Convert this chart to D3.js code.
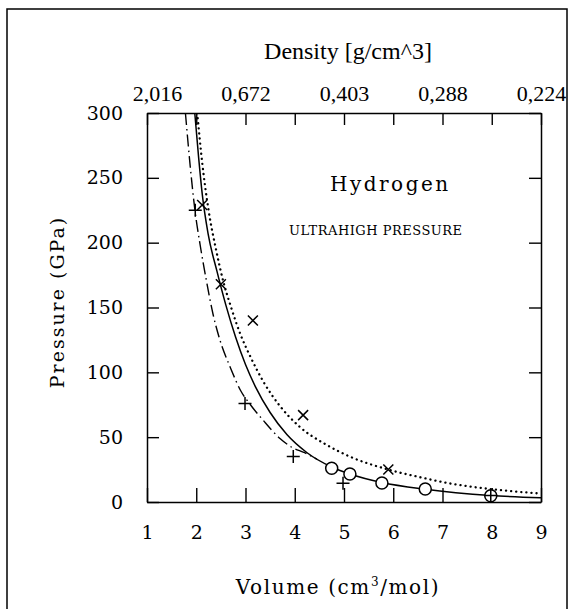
<!DOCTYPE html>
<html>
<head>
<meta charset="utf-8">
<script src="https://cdn.jsdelivr.net/npm/d3@7"></script>
<style>
  html, body { margin: 0; padding: 0; background: #fff; }
  svg { display: block; }
</style>
</head>
<body>
<svg id="chart" width="575" height="609"></svg>
<script>
// ---- data ----
const volumeTicks = [1, 2, 3, 4, 5, 6, 7, 8, 9];
const pressureTicks = [0, 50, 100, 150, 200, 250, 300];
const densityTickVolumes = [1, 3, 5, 7, 9];
const densityLabels = ["2,016", "0,672", "0,403", "0,288", "0,224"];

// solid curve
const solidV = [1.97, 2.05, 2.12, 2.24, 2.42, 2.6, 2.8, 3.0, 3.2, 3.5, 3.84, 4.25, 4.75, 5.12, 5.77, 6.65, 7.98, 9.0];
const solidP = [300, 265, 238, 207, 178, 152, 127, 106, 89, 69, 52, 38, 27, 21.6, 15, 9.8, 5, 3.2];
// dotted curve
const dottedV = [2.02, 2.12, 2.25, 2.4, 2.55, 2.7, 2.9, 3.1, 3.36, 3.7, 4.1, 4.65, 5.12, 5.9, 6.5, 7.2, 7.97, 9.0];
const dottedP = [300, 262, 225, 195, 170, 151, 129, 112, 93, 74, 58, 44, 35, 25, 19.5, 14, 10, 6.5];
// dash-dot curve
const dashDotV = [1.78, 1.88, 1.97, 2.08, 2.2, 2.34, 2.48, 2.7, 2.9, 3.1, 3.36, 3.7, 3.95, 4.2, 4.45];
const dashDotP = [300, 258, 226, 198, 172, 145, 125, 103, 86, 75, 63, 49, 42, 38, 33];

// markers
const crossV = [2.12, 2.5, 3.15, 4.17, 5.9];
const crossP = [229, 168, 140, 67, 25];
const plusV = [1.98, 2.99, 3.97, 4.98, 7.98];
const plusP = [225, 76, 35, 14.5, 5];
const circleV = [4.75, 5.12, 5.77, 6.65, 7.98];
const circleP = [26, 21.6, 14.6, 10, 4.8];

// ---- drawing ----
const svg = d3.select("#chart");
const x = d3.scaleLinear().domain([1, 9]).range([147, 541]);
const y = d3.scaleLinear().domain([0, 300]).range([502, 113]);

const tickFont = "'DejaVu Serif', serif";
const titleSerif = "'Liberation Serif', 'Times New Roman', serif";

// outer frame
svg.append("rect")
  .attr("x", 7).attr("y", 9).attr("width", 560).attr("height", 640)
  .attr("fill", "none").attr("stroke", "#000").attr("stroke-width", 1.5);

svg.append("defs").append("clipPath").attr("id", "plotClip")
  .append("rect").attr("x", 147).attr("y", 113).attr("width", 394).attr("height", 389);

// axes
function styleAxis(g, size) {
  g.selectAll(".domain").attr("stroke", "#000").attr("stroke-width", 1.5);
  g.selectAll(".tick line").attr("stroke", "#000").attr("stroke-width", 1.4);
  g.selectAll("text").attr("font-family", tickFont).attr("font-size", size).attr("fill", "#000");
}

const gBottom = svg.append("g").attr("transform", `translate(0,${y(0)})`)
  .call(d3.axisBottom(x).tickValues(volumeTicks).tickFormat(d3.format("d"))
    .tickSizeInner(-14).tickSizeOuter(0).tickPadding(24));
styleAxis(gBottom, 19);

const gLeft = svg.append("g").attr("transform", `translate(${x(1)},0)`)
  .call(d3.axisLeft(y).tickValues(pressureTicks).tickFormat(d3.format("d"))
    .tickSizeInner(-12).tickSizeOuter(0).tickPadding(24));
styleAxis(gLeft, 19);

const gRight = svg.append("g").attr("transform", `translate(${x(9)},0)`)
  .call(d3.axisRight(y).tickValues(pressureTicks).tickFormat("")
    .tickSizeInner(-12).tickSizeOuter(0));
styleAxis(gRight, 19);

const densityMap = new Map(densityTickVolumes.map((v, i) => [v, densityLabels[i]]));
const gTop = svg.append("g").attr("transform", `translate(0,${y(300)})`)
  .call(d3.axisTop(x).tickValues(volumeTicks).tickFormat(v => densityMap.get(v) || "")
    .tickSizeInner(-12).tickSizeOuter(0).tickPadding(12));
styleAxis(gTop, 22);
gTop.selectAll("text").attr("font-family", titleSerif);
gTop.selectAll(".tick").filter(d => d === 1).select("text").attr("dx", 10);

// curves
const line = d3.line().x(d => x(d[0])).y(d => y(d[1])).curve(d3.curveMonotoneX);
const plot = svg.append("g").attr("clip-path", "url(#plotClip)");

plot.append("path").datum(solidV.map((v, i) => [v, solidP[i]]))
  .attr("d", line).attr("fill", "none").attr("stroke", "#000").attr("stroke-width", 1.5);
plot.append("path").datum(dottedV.map((v, i) => [v, dottedP[i]]))
  .attr("d", line).attr("fill", "none").attr("stroke", "#000").attr("stroke-width", 2.3)
  .attr("stroke-dasharray", "0.1,5").attr("stroke-linecap", "round");
plot.append("path").datum(dashDotV.map((v, i) => [v, dashDotP[i]]))
  .attr("d", line).attr("fill", "none").attr("stroke", "#000").attr("stroke-width", 1.4)
  .attr("stroke-dasharray", "12,4,1.5,4");

// markers
const mk = svg.append("g").attr("stroke", "#000").attr("stroke-width", 1.5).attr("fill", "none");
const cs = 5;
crossV.forEach((v, i) => {
  const cx = x(v), cy = y(crossP[i]);
  mk.append("path").attr("d", `M${cx - cs},${cy - cs}L${cx + cs},${cy + cs}M${cx - cs},${cy + cs}L${cx + cs},${cy - cs}`);
});
const ps = 6.5;
plusV.forEach((v, i) => {
  const cx = x(v), cy = y(plusP[i]);
  mk.append("path").attr("d", `M${cx - ps},${cy}L${cx + ps},${cy}M${cx},${cy - ps}L${cx},${cy + ps}`);
});
circleV.forEach((v, i) => {
  mk.append("circle").attr("cx", x(v)).attr("cy", y(circleP[i])).attr("r", 6).attr("fill", "#fff");
});
// redraw plus over the circle at V=8 (circled plus)
plusV.forEach((v, i) => {
  if (v > 7.5) {
    const cx = x(v), cy = y(plusP[i]);
    mk.append("path").attr("d", `M${cx - ps},${cy}L${cx + ps},${cy}M${cx},${cy - ps}L${cx},${cy + ps}`);
  }
});

// titles
svg.append("text").attr("x", 348).attr("y", 59).attr("text-anchor", "middle")
  .attr("font-family", titleSerif).attr("font-size", 24).text("Density [g/cm^3]");

svg.append("text").attr("transform", "translate(64,302) rotate(-90)")
  .attr("text-anchor", "middle").attr("font-family", tickFont).attr("font-size", 19)
  .attr("letter-spacing", 2).text("Pressure (GPa)");

const vt = svg.append("text").attr("x", 338).attr("y", 594).attr("text-anchor", "middle")
  .attr("font-family", tickFont).attr("font-size", 20).attr("letter-spacing", 1.6);
vt.append("tspan").text("Volume (cm");
vt.append("tspan").attr("font-size", 12).attr("dy", -8).text("3");
vt.append("tspan").attr("dy", 8).text("/mol)");

svg.append("text").attr("x", 330).attr("y", 191)
  .attr("font-family", tickFont).attr("font-size", 20).attr("letter-spacing", 2.5).text("Hydrogen");
svg.append("text").attr("x", 289).attr("y", 235)
  .attr("font-family", tickFont).attr("font-size", 13).attr("letter-spacing", 0.5).text("ULTRAHIGH PRESSURE");
</script>
</body>
</html>
